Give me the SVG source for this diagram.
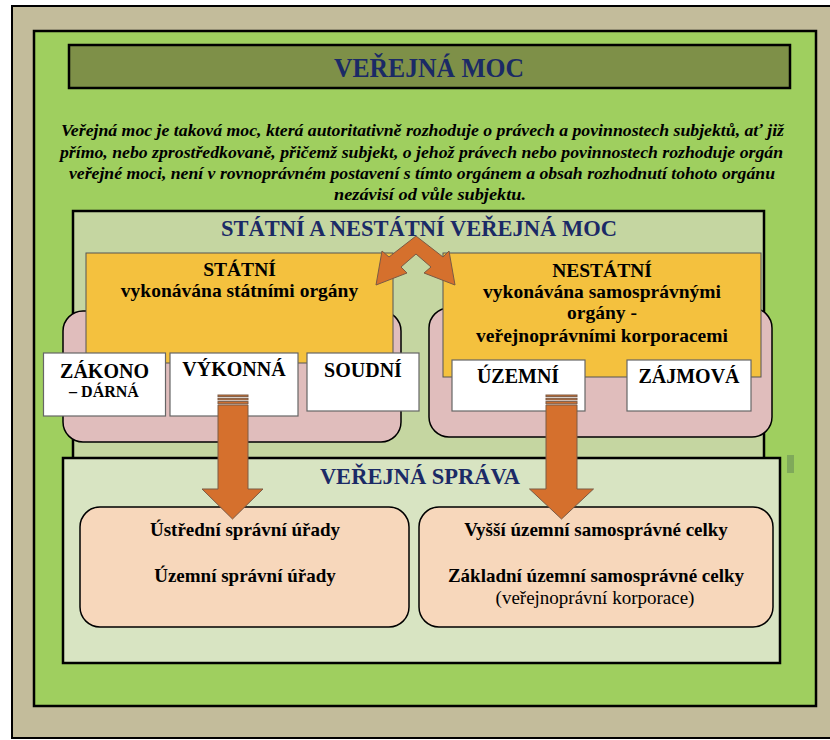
<svg xmlns="http://www.w3.org/2000/svg" width="830" height="740" viewBox="0 0 830 740">
<style>
.t{font-family:"Liberation Serif","Times New Roman",serif;font-weight:bold;text-anchor:middle;fill:#000}
.n{font-weight:normal}
.nv{fill:#1B2A66}
.it{font-style:italic}
.wb{fill:#fff;stroke:#666;stroke-width:1.2}
.yb{fill:#F4C13E;stroke:#555;stroke-width:1}
.pk{fill:#E0BDBC;stroke:#000;stroke-width:1.5}
.pe{fill:#F7D7BB;stroke:#000;stroke-width:1.5}
.ar{fill:#D5702D;stroke:#7a5a45;stroke-width:1}
</style>
<rect x="0" y="0" width="830" height="740" fill="#fff"/>
<g id="frame">
<rect x="12" y="6" width="830" height="732" fill="#C3BC9B" stroke="#000" stroke-width="2"/>
<rect x="34" y="31" width="782" height="675" fill="#9FCF5F" stroke="#000" stroke-width="2.5"/>
<rect x="787" y="455" width="7" height="18" fill="#7FA95A"/>
</g>
<g id="title">
<rect x="69" y="45" width="721" height="43" fill="#7E9048" stroke="#000" stroke-width="2.5"/>
<text class="t nv" x="429" y="77" font-size="27" textLength="190" lengthAdjust="spacingAndGlyphs">VEŘEJNÁ MOC</text>
</g>
<g id="definition" class="t it" font-size="17">
<text x="422.5" y="136" textLength="723" lengthAdjust="spacingAndGlyphs">Veřejná moc je taková moc, která autoritativně rozhoduje o právech a povinnostech subjektů, ať již</text>
<text x="421.5" y="157.5" textLength="723" lengthAdjust="spacingAndGlyphs">přímo, nebo zprostředkovaně, přičemž subjekt, o jehož právech nebo povinnostech rozhoduje orgán</text>
<text x="422" y="178.5" textLength="706" lengthAdjust="spacingAndGlyphs">veřejné moci, není v rovnoprávném postavení s tímto orgánem a obsah rozhodnutí tohoto orgánu</text>
<text x="430" y="199.5" textLength="192" lengthAdjust="spacingAndGlyphs">nezávisí od vůle subjektu.</text>
</g>
<g id="verejna-moc-box">
<rect x="73" y="211" width="691" height="260" fill="#C5D6A1" stroke="#000" stroke-width="2.5"/>
<text class="t nv" x="419" y="236" font-size="22.5">STÁTNÍ A NESTÁTNÍ VEŘEJNÁ MOC</text>
</g>
<g id="statni">
<rect class="pk" x="63" y="311" width="338" height="131" rx="20"/>
<rect class="yb" x="86" y="253" width="307" height="110"/>
<text class="t" x="239.5" y="276" font-size="19.5">STÁTNÍ</text>
<text class="t" x="239.5" y="297" font-size="19.5">vykonávána státními orgány</text>
</g>
<g id="nestatni">
<rect class="pk" x="429" y="308" width="343" height="129" rx="20"/>
<rect class="yb" x="443" y="253" width="318" height="124"/>
<text class="t" x="602" y="277" font-size="19.5">NESTÁTNÍ</text>
<text class="t" x="602" y="297.5" font-size="19.5">vykonávána samosprávnými</text>
<text class="t" x="602" y="319" font-size="19.5">orgány -</text>
<text class="t" x="602" y="341.5" font-size="19.5">veřejnoprávními korporacemi</text>
</g>
<g id="zakonodarna">
<rect class="wb" x="43.5" y="353" width="122" height="63"/>
<text class="t" x="104.5" y="378" font-size="20">ZÁKONO</text>
<text class="t" x="104" y="397" font-size="16">– DÁRNÁ</text>
</g>
<g id="vykonna">
<rect class="wb" x="170" y="353" width="128" height="63"/>
<text class="t" x="234" y="376" font-size="20">VÝKONNÁ</text>
</g>
<g id="soudni">
<rect class="wb" x="307" y="353" width="112" height="58"/>
<text class="t" x="363" y="377" font-size="20">SOUDNÍ</text>
</g>
<g id="uzemni">
<rect class="wb" x="452" y="360" width="133" height="51"/>
<text class="t" x="518" y="383" font-size="20">ÚZEMNÍ</text>
</g>
<g id="zajmova">
<rect class="wb" x="627" y="360" width="124" height="51"/>
<text class="t" x="689" y="383" font-size="20">ZÁJMOVÁ</text>
</g>
<g id="verejna-sprava">
<rect x="63" y="458" width="717" height="205" fill="#D8E4C2" stroke="#000" stroke-width="2.5"/>
<text class="t nv" x="420" y="484" font-size="22.5">VEŘEJNÁ SPRÁVA</text>
</g>
<g id="statni-sprava">
<rect class="pe" x="80" y="507" width="329" height="120" rx="20"/>
<text class="t" x="245" y="536" font-size="19">Ústřední správní úřady</text>
<text class="t" x="245" y="582" font-size="19">Územní správní úřady</text>
</g>
<g id="samosprava">
<rect class="pe" x="419" y="507" width="354" height="120" rx="20"/>
<text class="t" x="596" y="536" font-size="19">Vyšší územní samosprávné celky</text>
<text class="t" x="596" y="582" font-size="19">Základní územní samosprávné celky</text>
<text class="t n" x="595" y="604" font-size="19">(veřejnoprávní korporace)</text>
</g>
<g id="connectors">
<polygon class="ar" points="416,236 443,257 449,251 455,285 424,273 431,267 416,254 401,267 407,273 376,285 382,251 389,257"/>
<rect class="ar" x="218" y="395" width="30" height="1.6"/>
<rect class="ar" x="218" y="398.3" width="30" height="1.6"/>
<rect class="ar" x="218" y="401.6" width="30" height="2.2"/>
<polygon class="ar" points="218,405 248,405 248,489 263,489 232.5,519 202,489 218,489"/>
<rect class="ar" x="546" y="395" width="31" height="1.6"/>
<rect class="ar" x="546" y="398.3" width="31" height="1.6"/>
<rect class="ar" x="546" y="401.6" width="31" height="2.2"/>
<polygon class="ar" points="546,405 577,405 577,489 593.5,489 561.5,519 529.5,489 546,489"/>
</g>
</svg>
